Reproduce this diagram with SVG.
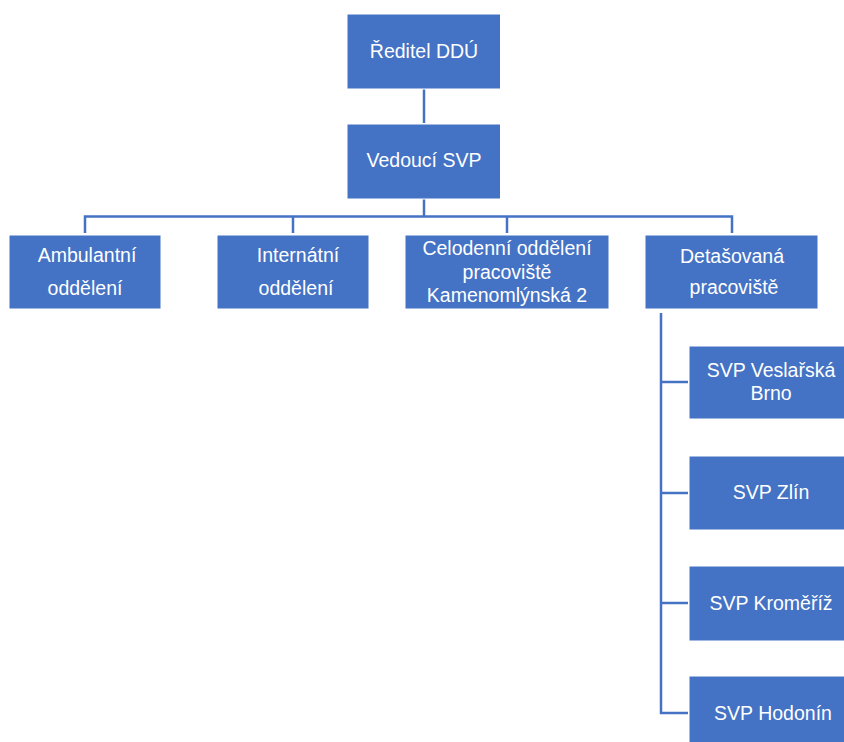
<svg xmlns="http://www.w3.org/2000/svg" width="844" height="742" viewBox="0 0 844 742">
<style>
.box{fill:#4472C4;stroke:#ffffff;stroke-width:1}
.t{font-family:"Liberation Sans",Arial,sans-serif;font-size:19.5px;fill:#ffffff;text-anchor:middle}
.c{fill:none;stroke:#4472C4;stroke-width:2.5}
</style>
<rect width="844" height="742" fill="#ffffff"/>
<g id="connectors">
<path class="c" d="M424,89V123"/>
<path class="c" d="M424,199V216.5"/>
<path class="c" d="M85,233V216.5H732V233"/>
<path class="c" d="M293,216.5V233"/>
<path class="c" d="M507,216.5V233"/>
<path class="c" d="M661,313V713H688"/>
<path class="c" d="M661,382H688"/>
<path class="c" d="M661,493H688"/>
<path class="c" d="M661,603H688"/>
</g>
<g id="n-reditel"><rect class="box" x="347" y="14" width="153.5" height="75"/><text class="t" x="424" y="58">Ředitel DDÚ</text></g>
<g id="n-vedouci"><rect class="box" x="347" y="124" width="153.5" height="75"/><text class="t" x="424" y="167">Vedoucí SVP</text></g>
<g id="n-ambulantni"><rect class="box" x="9" y="235" width="152" height="74"/><text class="t" x="87" y="262">Ambulantní</text><text class="t" x="85" y="295">oddělení</text></g>
<g id="n-internatni"><rect class="box" x="217" y="235" width="152" height="74"/><text class="t" x="298" y="262">Internátní</text><text class="t" x="296" y="295">oddělení</text></g>
<g id="n-celodenni"><rect class="box" x="405" y="235" width="204" height="74"/><text class="t" x="507" y="255">Celodenní oddělení</text><text class="t" x="507" y="279">pracoviště</text><text class="t" x="507" y="302">Kamenomlýnská 2</text></g>
<g id="n-detasovana"><rect class="box" x="645" y="235" width="173" height="74"/><text class="t" x="732" y="263">Detašovaná</text><text class="t" x="734" y="294">pracoviště</text></g>
<g id="n-veslarska"><rect class="box" x="689" y="346" width="156" height="73"/><text class="t" x="771" y="377">SVP Veslařská</text><text class="t" x="771" y="400">Brno</text></g>
<g id="n-zlin"><rect class="box" x="689" y="456" width="156" height="74"/><text class="t" x="771" y="499">SVP Zlín</text></g>
<g id="n-kromeriz"><rect class="box" x="689" y="566" width="156" height="75"/><text class="t" x="771" y="610">SVP Kroměříž</text></g>
<g id="n-hodonin"><rect class="box" x="689" y="676" width="156" height="75"/><text class="t" x="773" y="720">SVP Hodonín</text></g>
</svg>
